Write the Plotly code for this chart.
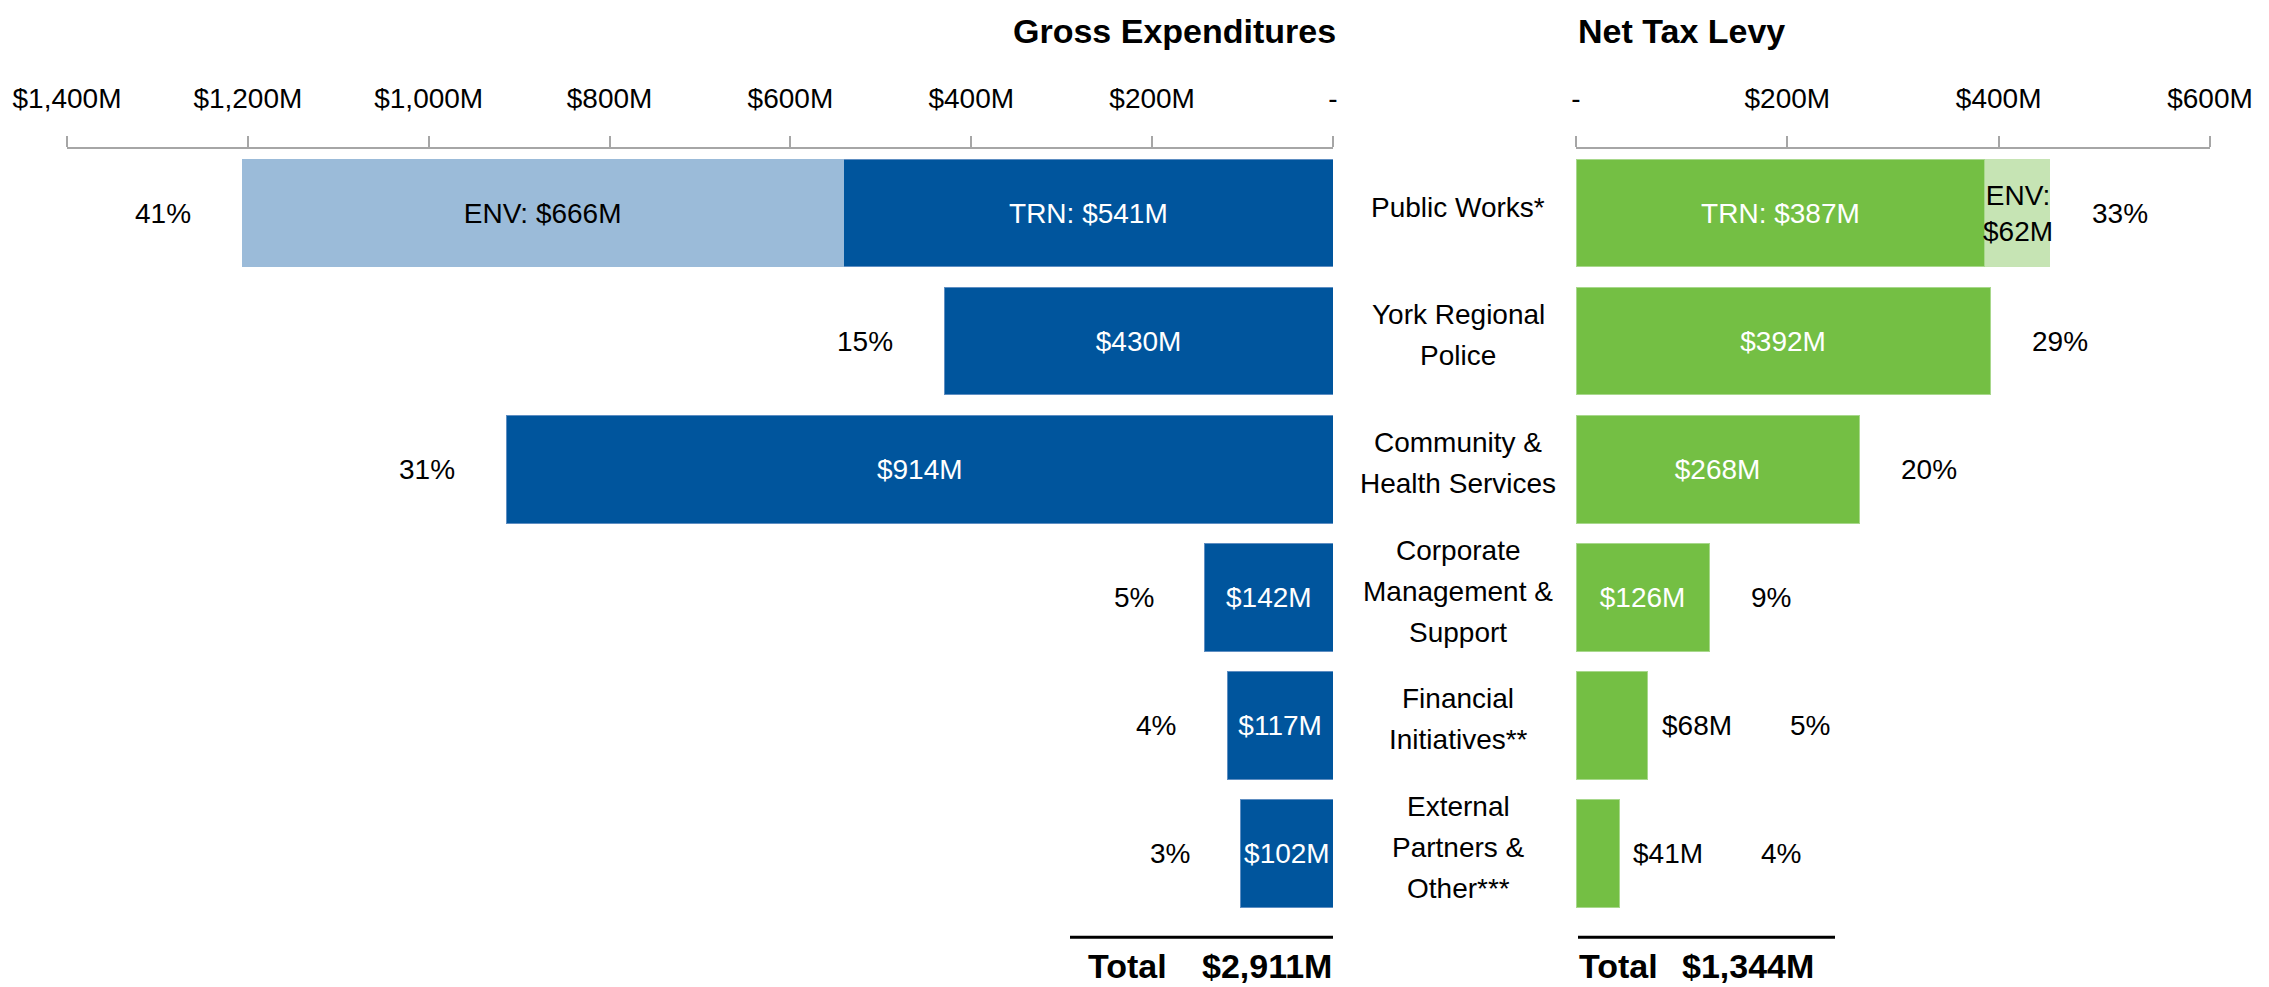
import plotly.graph_objects as go

# ---------------- data ----------------
categories = ["Public Works*", "York Regional<br>Police", "Community &<br>Health Services",
              "Corporate<br>Management &<br>Support", "Financial<br>Initiatives**",
              "External<br>Partners &<br>Other***"]
gross_main = [541, 430, 914, 142, 117, 102]          # TRN / single department
gross_env = [666, None, None, None, None, None]      # Environmental Services
gross_pct = ["41%", "15%", "31%", "5%", "4%", "3%"]
net_main = [387, 392, 268, 126, 68, 41]
net_env = [62, None, None, None, None, None]
net_pct = ["33%", "29%", "20%", "9%", "5%", "4%"]
gross_total = "$2,911M"
net_total = "$1,344M"
gross_ticks = [0, 200, 400, 600, 800, 1000, 1200, 1400]
net_ticks = [0, 200, 400, 600]

FONT = "Liberation Sans Narrow, Liberation Sans, Arial, sans-serif"
DARK_BLUE = "#00559D"
LIGHT_BLUE = "#9BBBD9"
GREEN = "#74BF44"
LIGHT_GREEN = "#C6E4B4"
W, H = 2269, 987
FS = 28


def money(v):
    return f"${v:,}M"


def tick_text(v):
    return "-" if v == 0 else money(v)


fig = go.Figure()

# left (gross) bars
gm_text = [("TRN: " if i == 0 else "") + money(v) for i, v in enumerate(gross_main)]
fig.add_trace(go.Bar(y=categories, x=gross_main, orientation="h", xaxis="x", yaxis="y",
                     marker=dict(color=DARK_BLUE, line=dict(width=1, color="#5E8EC2")),
                     text=gm_text, textposition="inside", insidetextanchor="middle", textangle=0,
                     textfont=dict(color="white", size=FS, family=FONT),
                     constraintext="none", hoverinfo="skip"))
ge_text = ["ENV: " + money(v) if v is not None else "" for v in gross_env]
fig.add_trace(go.Bar(y=categories, x=gross_env, orientation="h", xaxis="x", yaxis="y",
                     marker=dict(color=LIGHT_BLUE, line=dict(width=0)),
                     text=ge_text, textposition="inside", insidetextanchor="middle", textangle=0,
                     textfont=dict(color="black", size=FS, family=FONT),
                     constraintext="none", hoverinfo="skip"))

# right (net) bars
net_inside = [v >= 100 for v in net_main]
nm_text = [("TRN: " if i == 0 else "") + money(v) for i, v in enumerate(net_main)]
fig.add_trace(go.Bar(y=categories, x=net_main, orientation="h", xaxis="x2", yaxis="y",
                     marker=dict(color=GREEN, line=dict(width=1, color="#A8D88C")),
                     text=[t if ins else "" for t, ins in zip(nm_text, net_inside)],
                     textposition="inside", insidetextanchor="middle", textangle=0,
                     textfont=dict(color="white", size=FS, family=FONT),
                     constraintext="none", hoverinfo="skip"))
fig.add_trace(go.Bar(y=categories, x=net_env, orientation="h", xaxis="x2", yaxis="y",
                     marker=dict(color=LIGHT_GREEN, line=dict(width=0)),
                     hoverinfo="skip"))

annotations = []
# ENV label on the net side (two lines, slightly wider than its bar)
for c, m, e in zip(categories, net_main, net_env):
    if e is not None:
        annotations.append(dict(x=m + e / 2, y=c, xref="x2", yref="y", text="ENV:<br>" + money(e),
                                showarrow=False, xanchor="center", yanchor="middle",
                                font=dict(size=FS, color="black", family=FONT)))
# outside value labels for small net bars
for c, v, ins in zip(categories, net_main, net_inside):
    if not ins:
        annotations.append(dict(x=v, y=c, xref="x2", yref="y", text=money(v), showarrow=False,
                                xanchor="left", xshift=12, font=dict(size=FS, color="black", family=FONT)))

# percentage labels
for c, m, e, p in zip(categories, gross_main, gross_env, gross_pct):
    tot = m + (e or 0)
    annotations.append(dict(x=tot, y=c, xref="x", yref="y", text=p, showarrow=False,
                            xanchor="right", xshift=-49, font=dict(size=FS, color="black", family=FONT)))
for c, m, e, p, ins in zip(categories, net_main, net_env, net_pct, net_inside):
    tot = m + (e or 0)
    annotations.append(dict(x=tot, y=c, xref="x2", yref="y", text=p, showarrow=False,
                            xanchor="left", xshift=40 if ins else 140,
                            font=dict(size=FS, color="black", family=FONT)))

# category labels (one annotation per line for tighter line spacing)
LINE = 41
for c in categories:
    lines = c.split("<br>")
    n = len(lines)
    for k, ln in enumerate(lines):
        annotations.append(dict(x=1458 / W, y=c, xref="paper", yref="y", text=ln, showarrow=False,
                                xanchor="center", yanchor="middle", yshift=((n - 1) / 2 - k) * LINE + 6,
                                font=dict(size=FS, color="black", family=FONT)))

# titles
annotations.append(dict(x=1338 / W, y=1.153, xref="paper", yref="paper", text="<b>Gross Expenditures</b>",
                        showarrow=False, xanchor="right", yanchor="middle",
                        font=dict(size=34, color="black", family=FONT)))
annotations.append(dict(x=1576 / W, y=1.153, xref="paper", yref="paper", text="<b>Net Tax Levy</b>",
                        showarrow=False, xanchor="left", yanchor="middle",
                        font=dict(size=34, color="black", family=FONT)))

# totals
ty = -0.062
annotations += [
    dict(x=1086 / W, y=ty, xref="paper", yref="paper", text="<b>Total</b>", showarrow=False,
         xanchor="left", yanchor="middle", font=dict(size=34, color="black", family=FONT)),
    dict(x=1334 / W, y=ty, xref="paper", yref="paper", text=f"<b>{gross_total}</b>", showarrow=False,
         xanchor="right", yanchor="middle", font=dict(size=34, color="black", family=FONT)),
    dict(x=1577 / W, y=ty, xref="paper", yref="paper", text="<b>Total</b>", showarrow=False,
         xanchor="left", yanchor="middle", font=dict(size=34, color="black", family=FONT)),
    dict(x=1680 / W, y=ty, xref="paper", yref="paper", text=f"<b>{net_total}</b>", showarrow=False,
         xanchor="left", yanchor="middle", font=dict(size=34, color="black", family=FONT)),
]
ly = -0.025
shapes = [
    dict(type="line", xref="paper", yref="paper", x0=1070 / W, x1=1333 / W, y0=ly, y1=ly,
         line=dict(color="black", width=3)),
    dict(type="line", xref="paper", yref="paper", x0=1578 / W, x1=1835 / W, y0=ly, y1=ly,
         line=dict(color="black", width=3)),
]

axis_common = dict(side="top", anchor="y", showgrid=False, zeroline=False, showline=True,
                   linecolor="#A6A6A6", linewidth=2, ticks="outside", ticklen=11, tickwidth=1.5,
                   tickcolor="#A6A6A6", tickfont=dict(size=FS, color="black", family=FONT),
                   ticklabelstandoff=17, fixedrange=True, automargin=False)

fig.update_layout(
    width=W, height=H,
    margin=dict(l=0, r=0, t=149, b=69, pad=0, autoexpand=False),
    paper_bgcolor="white", plot_bgcolor="white",
    barmode="stack", bargap=0.16, showlegend=False,
    xaxis=dict(domain=[67 / W, 1333 / W], range=[1400, 0],
               tickvals=gross_ticks, ticktext=[tick_text(v) for v in gross_ticks], **axis_common),
    xaxis2=dict(domain=[1576 / W, 2210 / W], range=[0, 600],
                tickvals=net_ticks, ticktext=[tick_text(v) for v in net_ticks], **axis_common),
    yaxis=dict(autorange="reversed", showticklabels=False, showgrid=False, zeroline=False,
               showline=False, fixedrange=True, automargin=False),
    annotations=annotations, shapes=shapes,
    font=dict(family=FONT, color="black"),
)

fig.write_html("out.html", config={"displayModeBar": False},
               post_script="document.body.style.margin='0px';")
